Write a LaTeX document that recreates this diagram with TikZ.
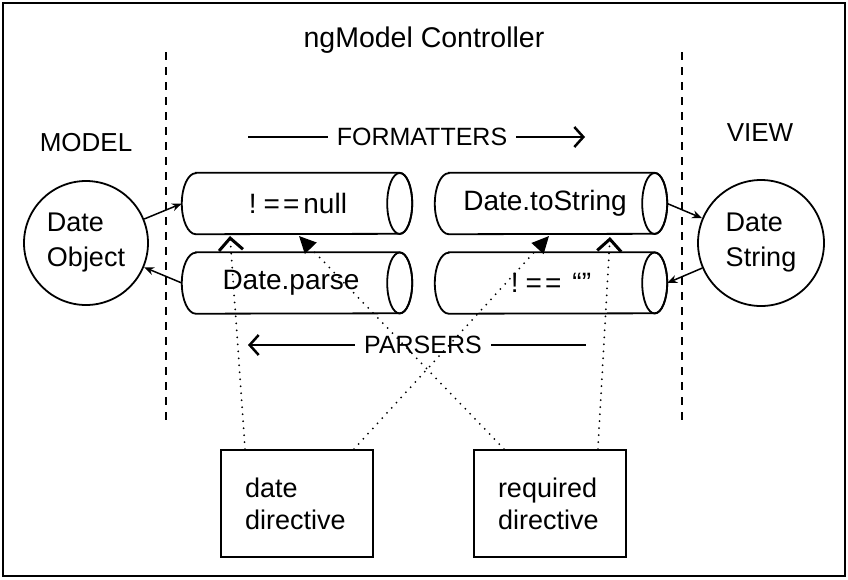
\documentclass[tikz,border=0pt]{standalone}
\usepackage{fontspec}
\setmainfont{Liberation Sans}
\usetikzlibrary{arrows.meta}
\newcommand\cylout[1]{%
  \draw[outl] ([xshift=14pt]#1.north west) -- ([xshift=-12.5pt]#1.north east)
    arc[start angle=90,end angle=-90,x radius=12.5pt,y radius=30.5pt]
    -- ([xshift=14pt]#1.south west)
    arc[start angle=270,end angle=90,x radius=14pt,y radius=30.5pt] -- cycle;
  \draw[outl] ([xshift=-12.5pt]#1.east) ellipse[x radius=12.5pt,y radius=30.5pt];}
\tikzset{
  txt/.style={font=\fontsize{28}{33}\selectfont, inner sep=0pt},
  outl/.style={line width=1.8pt},
  cylbox/.style={txt, minimum width=#1, minimum height=61pt},
  circ/.style={circle, draw, line width=1.8pt, minimum size=#1, inner sep=0pt, align=left, font=\fontsize{27}{35}\selectfont},
  dirbox/.style={draw, line width=1.8pt, minimum width=152pt, minimum height=107pt, inner sep=0pt,
     text width=104pt, align=left, font=\fontsize{27}{32}\selectfont},
  sidelabel/.style={font=\fontsize{26}{30}\selectfont, inner sep=0pt},
  flowlabel/.style={font=\fontsize{25}{28}\selectfont, inner ysep=2pt, inner xsep=9pt},
  conn/.style={line width=1.5pt, -{Stealth[length=10pt,width=8pt]}},
  flowline/.style={line width=1.8pt},
  dotconn/.style={line width=2pt, line cap=round, dash pattern=on 0pt off 7pt},
  divider/.style={line width=1.8pt, dash pattern=on 8pt off 7pt},
  openhead/.style={-{Straight Barb[length=12pt,width=24pt,line width=3pt]}},
  fillhead/.style={-{Triangle[length=17pt,width=16pt]}},
}
\begin{document}
\begin{tikzpicture}[x=1pt,y=-1pt]
\useasboundingbox (0,0) rectangle (848,579);
\draw[line width=2.5pt] (3,3) rectangle (845,576);

% title and side labels
\node[txt, font=\fontsize{28.5}{32}\selectfont] (title) at (424,40) {ngModel Controller};
\node[sidelabel] (model) at (86,143) {MODEL};
\node[sidelabel] (view) at (760,133) {VIEW};

% dividers
\coordinate (d1a) at (166,52); \coordinate (d1b) at (166,422);
\coordinate (d2a) at (682,52); \coordinate (d2b) at (682,422);
\draw[divider] (d1a) -- (d1b);
\draw[divider] (d2a) -- (d2b);

% circles
\node[circ=124pt] (obj) at (86,243) {Date\\Object};
\node[circ=126pt] (str) at (761,243) {Date\\String};

% cylinders
\node[cylbox=230pt] (nullc) at (297,203.5) {\hspace*{2pt}!\kern7pt=\kern3pt=\kern4pt null};
\node[cylbox=230pt] (parse) at (297,283) {\hspace*{-12pt}Date.parse};
\node[cylbox=232pt] (tostr) at (551,203.5) {\hspace*{-12pt}Date.toString};
\node[cylbox=232pt] (empty) at (551,283) {!\kern7pt=\kern3pt=\kern11pt“”};
\cylout{nullc}
\cylout{parse}
\cylout{tostr}
\cylout{empty}

% model/view connectors
\draw[conn] (obj) -- (nullc.west);
\draw[conn] (parse.west) -- (obj);
\draw[conn] (tostr.east) -- (str);
\draw[conn] (str) -- (empty.east);

% formatters / parsers
\node[flowlabel] (fmt) at (422,137) {FORMATTERS};
\coordinate (fl) at (248,137);
\coordinate (fr) at (585,137);
\draw[flowline] (fl) -- (fmt);
\draw[flowline, -{Straight Barb[length=9pt,width=20pt,line width=2.5pt]}] (fmt) -- (fr);

\node[flowlabel] (prs) at (423,345) {PARSERS};
\coordinate (pl) at (248,345);
\coordinate (pr) at (586,345);
\draw[flowline, -{Straight Barb[length=9pt,width=20pt,line width=2.5pt]}] (prs) -- (pl);
\draw[flowline] (prs) -- (pr);

% directive boxes
\node[dirbox] (datedir) at (297,503.5) {date\\directive};
\node[dirbox] (reqdir) at (550,503.5) {required\\directive};

% dotted connectors
\coordinate (t1) at (230,236);
\coordinate (t2) at (549,236);
\coordinate (t3) at (299,236);
\coordinate (t4) at (610,237);
\draw[dotconn, openhead] ([xshift=25pt]datedir.north west) -- (t1);
\draw[dotconn, fillhead] ([xshift=-20pt]datedir.north east) -- (t2);
\draw[dotconn, fillhead] ([xshift=31pt]reqdir.north west) -- (t3);
\draw[dotconn, openhead] ([xshift=-29pt]reqdir.north east) -- (t4);
\end{tikzpicture}
\end{document}
